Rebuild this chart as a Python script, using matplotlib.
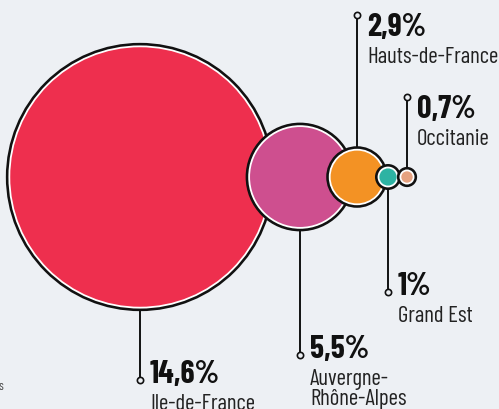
import matplotlib.pyplot as plt
from matplotlib.patches import Circle

# data
regions = ['Ile-de-France', 'Auvergne-\nRhône-Alpes', 'Hauts-de-France', 'Grand Est', 'Occitanie']
values = [14.6, 5.5, 2.9, 1.0, 0.7]
value_labels = ['14,6%', '5,5%', '2,9%', '1%', '0,7%']
colors = ['#EE2F4E', '#CE4F8F', '#F39224', '#2DB3A3', '#E6A280']

# layout (pixels, y going down)
centers_x = [140, 300, 357, 388, 407]
center_y = 177
leader_dir = [1, 1, -1, 1, -1]      # 1 = label below, -1 = label above
leader_end = [380, 355, 15, 292, 97]

bg = '#EDF0F4'
num_font = ['Barlow Condensed', 'Liberation Sans Narrow', 'DejaVu Sans']
name_font = ['Barlow Condensed', 'Liberation Sans Narrow', 'DejaVu Sans']

fig = plt.figure(figsize=(4.99, 4.09), dpi=100)
fig.patch.set_facecolor(bg)
ax = fig.add_axes([0, 0, 1, 1])
ax.set_xlim(0, 499)
ax.set_ylim(409, 0)
ax.set_aspect('equal')
ax.axis('off')

for i, v in enumerate(values):
    r = 10 * v ** 0.96 + 3
    cx = centers_x[i]
    z = 2 + i
    # black outline, white ring, colour fill
    ax.add_patch(Circle((cx, center_y), r, facecolor='#111111', edgecolor='none', zorder=z))
    ax.add_patch(Circle((cx, center_y), r - 2.6, facecolor='white', edgecolor='none', zorder=z))
    ax.add_patch(Circle((cx, center_y), r - 4.4, facecolor=colors[i], edgecolor='none', zorder=z))

    # leader line
    y0 = center_y + leader_dir[i] * r
    ax.plot([cx, cx], [y0, leader_end[i]], color='#111111', lw=1.4, zorder=1)
    ax.plot(cx, leader_end[i], marker='o', ms=4.5, mfc=bg, mec='#111111', mew=1.2, zorder=1)

    # labels
    if leader_dir[i] == 1:
        yb = leader_end[i] + 3
    else:
        yb = leader_end[i] + 21
    ax.text(cx + 10, yb, value_labels[i], family=num_font, fontweight='bold', fontsize=23,
            color='#111111', va='baseline', ha='left')
    for j, line in enumerate(regions[i].split('\n')):
        ax.text(cx + 10, yb + 27 + 20 * j, line, family=name_font, fontsize=16.5,
                color='#222222', va='baseline', ha='left')

# cut-off text at the left edge
ax.text(-2, 386, 's', family=name_font, fontsize=9, color='#444444', va='center', ha='left')

plt.savefig('out.png', dpi=100, facecolor=bg)
